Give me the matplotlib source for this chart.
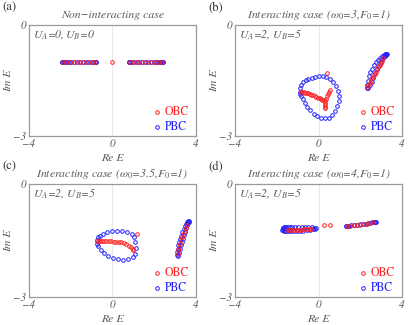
import matplotlib
matplotlib.use("Agg")
import matplotlib.pyplot as plt

plt.rcParams['font.family'] = ['STIXGeneral', 'DejaVu Serif']
plt.rcParams['mathtext.fontset'] = 'stix'

# ---------------- data ----------------
# (a) non-interacting, all at Im E = -1
a_obc_x = [-2.36, -2.22, -2.04, -1.84, -1.62, -1.40, -1.18, -0.98, -0.84, 0.0,
           0.84, 0.98, 1.18, 1.40, 1.62, 1.84, 2.04, 2.22, 2.36]
a_obc_y = [-1.0] * len(a_obc_x)
a_pbc_x = [-2.42, -2.41, -2.38, -2.34, -2.28, -2.20, -2.10, -1.98, -1.85, -1.71, -1.57,
           -1.43, -1.29, -1.16, -1.04, -0.94, -0.86, -0.81, -0.79,
           0.79, 0.81, 0.86, 0.94, 1.04, 1.16, 1.29, 1.43, 1.57, 1.71, 1.85, 1.98,
           2.10, 2.20, 2.28, 2.34, 2.38, 2.41, 2.42]
a_pbc_y = [-1.0] * len(a_pbc_x)

# (b) omega0 = 3
b_pbc_x = [-0.89, -0.87, -0.82, -0.74, -0.62, -0.48, -0.32, -0.16, 0.02, 0.20, 0.38,
           0.55, 0.71, 0.84, 0.94, 0.98, 0.97, 0.91, 0.81, 0.66, 0.48, 0.30, 0.12,
           -0.06, -0.23, -0.39, -0.53, -0.65, -0.75, -0.82, -0.87,
           2.31, 2.33, 2.37, 2.42, 2.49, 2.57, 2.66, 2.76, 2.86, 2.96, 3.05, 3.12, 3.18,
           3.22, 3.25, 3.26, 3.24, 3.19, 3.13, 3.06, 2.98, 2.90, 2.81, 2.72, 2.63, 2.54,
           2.45, 2.37]
b_pbc_y = [-1.80, -1.70, -1.62, -1.55, -1.49, -1.45, -1.42, -1.40, -1.39, -1.39, -1.41,
           -1.46, -1.54, -1.65, -1.78, -1.92, -2.06, -2.20, -2.33, -2.44, -2.50, -2.52, -2.51,
           -2.47, -2.40, -2.31, -2.21, -2.10, -2.00, -1.92, -1.86,
           -1.71, -1.62, -1.50, -1.39, -1.28, -1.18, -1.09, -1.01, -0.94, -0.88, -0.84, -0.81, -0.79,
           -0.78, -0.78, -0.78, -0.80, -0.83, -0.87, -0.93, -1.01, -1.10, -1.20, -1.31, -1.42, -1.53,
           -1.63, -1.71]
b_obc_x = [-0.84, -0.77, -0.70, -0.63, -0.56, -0.49, -0.42, -0.35, -0.27, -0.19, -0.11,
           -0.03, 0.05, 0.12, 0.19, 0.25, 0.30,
           0.36, 0.42, 0.47, 0.51, 0.55, 0.42,
           0.31, 0.31, 0.31, 0.31,
           2.33, 2.39, 2.45, 2.51, 2.57, 2.63, 2.69, 2.75, 2.81, 2.87, 2.93, 2.99, 3.05, 3.11]
b_obc_y = [-1.80, -1.81, -1.82, -1.83, -1.84, -1.85, -1.87, -1.88, -1.90, -1.92, -1.94,
           -1.96, -1.98, -2.00, -2.02, -2.04, -2.06,
           -2.00, -1.93, -1.86, -1.80, -1.75, -1.29,
           -2.12, -2.17, -2.21, -2.25,
           -1.68, -1.62, -1.56, -1.50, -1.44, -1.38, -1.32, -1.26, -1.20, -1.14, -1.08, -1.02, -0.96, -0.90]

# (c) omega0 = 3.5
c_pbc_x = [-0.76, -0.71, -0.60, -0.44, -0.25, -0.01, 0.23, 0.47, 0.71, 0.92, 1.03, 1.08,
           1.13, 1.08, 0.97, 0.76, 0.52, 0.28, 0.04, -0.20, -0.41, -0.57, -0.68, -0.74,
           3.10, 3.10, 3.12, 3.15, 3.19, 3.24, 3.29, 3.35, 3.41, 3.47, 3.53, 3.58, 3.62, 3.65,
           3.14, 3.18, 3.22, 3.27, 3.32, 3.37, 3.42, 3.47, 3.52, 3.57, 3.61, 3.65]
c_pbc_y = [-1.49, -1.42, -1.37, -1.32, -1.28, -1.25, -1.24, -1.25, -1.28, -1.33, -1.42, -1.54,
           -1.69, -1.85, -1.94, -1.99, -2.01, -2.00, -1.96, -1.91, -1.83, -1.74, -1.65, -1.58,
           -1.88, -1.80, -1.72, -1.63, -1.54, -1.45, -1.37, -1.28, -1.20, -1.12, -1.06, -1.02, -0.99, -0.98,
           -1.90, -1.82, -1.73, -1.63, -1.54, -1.45, -1.36, -1.27, -1.18, -1.10, -1.04, -1.00]
c_obc_x = [-0.72, -0.66, -0.58, -0.50, -0.40, -0.30, -0.18, -0.06, 0.06, 0.18, 0.30,
           0.42, 0.54, 0.66, 0.78, 0.88, 0.96, 1.00, 1.19,
           3.12, 3.16, 3.20, 3.25, 3.30, 3.35, 3.40, 3.45, 3.50, 3.55]
c_obc_y = [-1.50, -1.50, -1.50, -1.51, -1.51, -1.51, -1.52, -1.52, -1.53, -1.53, -1.54,
           -1.55, -1.57, -1.60, -1.64, -1.68, -1.73, -1.76, -1.33,
           -1.85, -1.76, -1.67, -1.58, -1.49, -1.41, -1.32, -1.24, -1.16, -1.09]

# (d) omega0 = 4
d_pbc_x = [-1.73, -1.72, -1.70, -1.66, -1.62, -1.56, -1.48, -1.38, -1.26, -1.12, -0.96,
           -0.80, -0.64, -0.48, -0.33, -0.20, -0.13, -0.16, -0.26, -0.40, -0.56, -0.72,
           -0.88, -1.04, -1.18, -1.31, -1.42, -1.52, -1.60, -1.66, -1.70,
           1.30, 1.34, 1.40, 1.48, 1.58, 1.70, 1.84, 1.98, 2.12, 2.26, 2.38, 2.49, 2.58,
           2.65, 2.70, 2.73, 2.74]
d_pbc_y = [-1.21, -1.18, -1.16, -1.15, -1.14, -1.14, -1.14, -1.14, -1.14, -1.14, -1.14,
           -1.14, -1.15, -1.15, -1.15, -1.16, -1.17, -1.19, -1.20, -1.22, -1.23, -1.24,
           -1.25, -1.25, -1.26, -1.26, -1.26, -1.26, -1.25, -1.24, -1.23,
           -1.12, -1.12, -1.11, -1.11, -1.10, -1.09, -1.08, -1.07, -1.06, -1.05, -1.04, -1.03, -1.02,
           -1.02, -1.01, -1.01, -1.01]
d_obc_x = [-1.52, -1.41, -1.30, -1.19, -1.08, -0.97, -0.86, -0.75, -0.64, -0.53, -0.42, -0.37,
           0.26, 0.54,
           1.36, 1.52, 1.68, 1.84, 2.00, 2.16, 2.32, 2.48, 2.62]
d_obc_y = [-1.22, -1.22, -1.22, -1.22, -1.21, -1.21, -1.21, -1.20, -1.20, -1.20, -1.19, -1.19,
           -1.09, -1.10,
           -1.12, -1.11, -1.10, -1.09, -1.08, -1.07, -1.06, -1.04, -1.02]

panels = [
    dict(lab="(a)", title="Non\u2212interacting case", ua=r"$U_A$=0,$\,U_B$=0",
         pbc=(a_pbc_x, a_pbc_y), obc=(a_obc_x, a_obc_y)),
    dict(lab="(b)", title=r"Interacting case ($\omega_0$=3,$F_0$=1)", ua=r"$U_A$=2, $U_B$=5",
         pbc=(b_pbc_x, b_pbc_y), obc=(b_obc_x, b_obc_y)),
    dict(lab="(c)", title=r"Interacting case ($\omega_0$=3.5,$F_0$=1)", ua=r"$U_A$=2, $U_B$=5",
         pbc=(c_pbc_x, c_pbc_y), obc=(c_obc_x, c_obc_y)),
    dict(lab="(d)", title=r"Interacting case ($\omega_0$=4,$F_0$=1)", ua=r"$U_A$=2, $U_B$=5",
         pbc=(d_pbc_x, d_pbc_y), obc=(d_obc_x, d_obc_y)),
]

W, H = 408, 325
fig = plt.figure(figsize=(W / 100, H / 100), dpi=100)

boxes = [(29, 25, 196, 136), (235, 25, 402, 136), (29, 184, 196, 297), (235, 184, 402, 297)]
gray = '#5a5a5a'
red = '#ff2020'
blue = '#2020ff'
ms = 2.6
mew = 0.7

for p, (x0, y0, x1, y1) in zip(panels, boxes):
    ax = fig.add_axes([x0 / W, 1 - y1 / H, (x1 - x0) / W, (y1 - y0) / H])
    ax.set_xlim(-4, 4)
    ax.set_ylim(-3, 0)
    ax.axvline(0, color='#e4e4e4', lw=0.6, zorder=0)
    ax.plot(p['pbc'][0], p['pbc'][1], 'o', ls='none', mfc='none', mec=blue, ms=ms, mew=mew, zorder=2)
    ax.plot(p['obc'][0], p['obc'][1], 'o', ls='none', mfc='none', mec=red, ms=ms, mew=mew, zorder=3)
    for s in ax.spines.values():
        s.set_color('#9a9a9a')
        s.set_linewidth(0.9)
    ax.set_xticks([-4, 0, 4])
    ax.set_xticklabels(['\u22124', '0', '4'])
    ax.set_yticks([-3, 0])
    ax.set_yticklabels(['\u22123', '0'])
    ax.tick_params(length=0, pad=2, labelsize=8, labelcolor=gray)
    for t in ax.get_xticklabels() + ax.get_yticklabels():
        t.set_style('italic')
    ax.set_xlabel('Re E', style='italic', fontsize=8.5, color=gray, labelpad=3)
    ax.set_ylabel('Im E', style='italic', fontsize=8.5, color=gray, labelpad=0)
    ax.set_title(p['title'], style='italic', fontsize=8.5, color=gray, pad=5)
    ax.text(0.022, 0.965, p['ua'], transform=ax.transAxes, ha='left', va='top',
            style='italic', fontsize=8.5, color=gray)
    # legend
    ax.plot([0.768], [0.215], 'o', transform=ax.transAxes, mfc='none', mec=red, ms=ms, mew=mew)
    ax.plot([0.768], [0.08], 'o', transform=ax.transAxes, mfc='none', mec=blue, ms=ms, mew=mew)
    ax.text(0.815, 0.215, 'OBC', transform=ax.transAxes, ha='left', va='center', fontsize=8.5, color=red)
    ax.text(0.815, 0.08, 'PBC', transform=ax.transAxes, ha='left', va='center', fontsize=8.5, color=blue)
    fig.text((x0 - 27) / W, 1 - (y0 - 17) / H, p['lab'], ha='left', va='center', fontsize=9, color='#333333')

fig.savefig('out.png', dpi=100)
